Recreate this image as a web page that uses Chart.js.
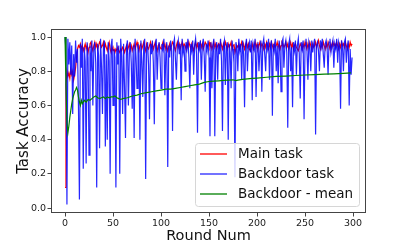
<!DOCTYPE html>
<html>
<head>
<meta charset="utf-8">
<script src="https://cdn.jsdelivr.net/npm/chart.js@4/dist/chart.umd.min.js"></script>
<style>
  html, body { margin: 0; padding: 0; background: #fff; }
  #wrap { width: 407px; height: 244px; }
</style>
</head>
<body>
<div id="wrap"><canvas id="chart" width="407" height="244"></canvas></div>
<script>
// series values, one per round (0..299)
const mainTask = [
  0.12,0.72,0.80,0.77,0.79,0.76,0.81,0.78,0.80,0.75,
  0.78,0.82,0.88,0.93,0.95,0.94,0.96,0.93,0.95,0.92,
  0.94,0.96,0.93,0.95,0.91,0.94,0.96,0.97,0.94,0.92,
  0.95,0.97,0.94,0.96,0.93,0.95,0.97,0.96,0.94,0.95,
  0.97,0.93,0.96,0.94,0.92,0.95,0.97,0.93,0.91,0.94,
  0.92,0.93,0.91,0.93,0.92,0.94,0.92,0.91,0.93,0.92,
  0.94,0.93,0.91,0.93,0.95,0.92,0.94,0.96,0.93,0.95,
  0.92,0.94,0.96,0.93,0.95,0.97,0.94,0.92,0.95,0.96,
  0.93,0.95,0.97,0.94,0.92,0.96,0.94,0.93,0.95,0.97,
  0.94,0.96,0.93,0.95,0.97,0.94,0.92,0.95,0.96,0.94,
  0.93,0.95,0.97,0.94,0.96,0.93,0.95,0.92,0.94,0.96,
  0.93,0.95,0.97,0.96,0.94,0.92,0.95,0.97,0.94,0.96,
  0.93,0.95,0.97,0.94,0.96,0.95,0.93,0.96,0.94,0.97,
  0.95,0.93,0.96,0.94,0.92,0.95,0.97,0.94,0.96,0.93,
  0.95,0.97,0.94,0.96,0.93,0.95,0.97,0.96,0.94,0.95,
  0.97,0.94,0.96,0.93,0.95,0.97,0.94,0.96,0.93,0.95,
  0.96,0.94,0.97,0.95,0.93,0.96,0.94,0.97,0.95,0.93,
  0.96,0.94,0.95,0.97,0.93,0.95,0.96,0.91,0.93,0.95,
  0.94,0.96,0.93,0.95,0.97,0.94,0.96,0.93,0.95,0.97,
  0.94,0.96,0.93,0.92,0.94,0.96,0.93,0.95,0.97,0.94,
  0.96,0.93,0.95,0.97,0.94,0.96,0.95,0.93,0.96,0.94,
  0.97,0.95,0.93,0.96,0.94,0.97,0.95,0.93,0.96,0.94,
  0.95,0.97,0.94,0.96,0.93,0.95,0.97,0.96,0.94,0.95,
  0.97,0.94,0.96,0.93,0.95,0.97,0.94,0.96,0.93,0.95,
  0.96,0.94,0.93,0.92,0.94,0.96,0.95,0.93,0.96,0.94,
  0.97,0.95,0.93,0.96,0.94,0.97,0.95,0.93,0.96,0.94,
  0.95,0.97,0.94,0.96,0.98,0.95,0.93,0.96,0.94,0.97,
  0.95,0.93,0.96,0.94,0.97,0.95,0.93,0.96,0.94,0.97,
  0.95,0.96,0.94,0.97,0.95,0.93,0.96,0.94,0.97,0.95,
  0.96,0.94,0.97,0.95,0.93,0.96,0.94,0.97,0.95,0.96
];
const backdoorTask = [
  1.00,0.92,0.02,0.99,0.84,0.97,0.78,0.95,0.55,0.90,
  0.77,0.98,0.85,0.93,0.60,0.05,0.96,0.82,0.99,0.23,
  0.94,0.86,0.26,0.97,0.88,0.31,0.95,0.80,0.98,0.60,
  0.92,0.97,0.85,0.12,0.96,0.89,0.35,0.99,0.83,0.55,
  0.94,0.98,0.36,0.90,0.40,0.97,0.86,0.20,0.95,0.99,
  0.60,0.93,0.88,0.12,0.97,0.84,0.95,0.20,0.99,0.89,
  0.55,0.96,0.71,0.41,0.94,0.98,0.60,0.90,0.97,0.85,
  0.58,0.95,0.41,0.99,0.88,0.70,0.96,0.92,0.40,0.98,
  0.86,0.65,0.95,0.99,0.17,0.93,0.97,0.84,0.52,0.96,
  0.90,0.98,0.85,0.49,0.95,0.99,0.75,0.92,0.97,0.88,
  0.70,0.96,0.93,0.99,0.66,0.90,0.97,0.24,0.95,0.88,
  0.98,0.92,0.45,0.96,0.99,0.87,0.75,0.94,0.98,0.90,
  0.96,0.63,0.99,0.91,0.95,0.80,0.97,0.93,0.99,0.88,
  0.70,0.96,0.92,0.98,0.78,0.95,0.99,0.90,0.44,0.97,
  0.93,0.98,0.75,0.95,0.99,0.89,0.68,0.96,0.92,0.98,
  0.88,0.42,0.97,0.70,0.95,0.99,0.42,0.93,0.97,0.75,
  0.96,0.90,0.99,0.86,0.45,0.95,0.98,0.72,0.94,0.97,
  0.40,0.96,0.91,0.70,0.98,0.93,0.85,0.18,0.97,0.94,
  0.80,0.99,0.92,0.96,0.75,0.98,0.90,0.59,0.95,0.99,
  0.80,0.94,0.97,0.91,0.98,0.63,0.96,0.93,0.99,0.65,
  0.95,0.97,0.80,0.92,0.98,0.68,0.96,0.99,0.90,0.80,
  0.97,0.93,0.99,0.75,0.95,0.98,0.54,0.96,0.92,0.99,
  0.80,0.95,0.73,0.98,0.93,0.68,0.97,0.99,0.82,0.95,
  0.98,0.91,0.47,0.96,0.99,0.80,0.94,0.59,0.97,0.92,
  0.98,0.78,0.95,0.99,0.90,0.64,0.97,0.93,0.98,0.52,
  0.95,0.99,0.92,0.75,0.97,0.94,0.80,0.98,0.91,0.96,
  0.99,0.43,0.95,0.97,0.92,0.80,0.98,0.94,0.99,0.90,
  0.82,0.96,0.98,0.93,0.78,0.97,0.99,0.91,0.95,0.98,
  0.82,0.96,0.93,0.99,0.85,0.97,0.94,0.58,0.98,0.95,
  0.80,0.97,0.99,0.85,0.94,0.98,0.60,0.93,0.78,0.88
];
const meanRounds = [0,1,2,3,4,5,6,7,8,9,10,11,12,13,14,15,16,17,18,19,20,22,24,26,28,30,32,34,36,38,40,42,44,46,48,50,52,54,56,58,60,65,70,75,80,85,90,95,100,105,110,115,120,125,130,135,140,145,150,155,160,165,170,175,178,180,185,190,195,200,210,220,230,240,250,260,270,280,290,298];
const backdoorMean = [1.00,0.72,0.50,0.44,0.48,0.53,0.57,0.61,0.64,0.66,0.68,0.69,0.705,0.69,0.65,0.62,0.60,0.63,0.61,0.62,0.63,0.62,0.635,0.63,0.64,0.65,0.655,0.645,0.64,0.645,0.65,0.64,0.65,0.645,0.65,0.65,0.655,0.645,0.64,0.635,0.64,0.645,0.655,0.66,0.67,0.675,0.68,0.685,0.69,0.695,0.695,0.70,0.705,0.71,0.715,0.72,0.725,0.735,0.74,0.742,0.744,0.746,0.748,0.75,0.745,0.748,0.752,0.755,0.758,0.76,0.765,0.77,0.772,0.775,0.778,0.78,0.783,0.785,0.788,0.79];
const xTicks = [0, 50, 100, 150, 200, 250, 300];
const yTicks = [0.0, 0.2, 0.4, 0.6, 0.8, 1.0];

const font = "'DejaVu Sans', sans-serif";

const boxPlugin = {
  id: 'box',
  afterDatasetsDraw(chart) {
    const { ctx, chartArea: a } = chart;
    ctx.save();
    ctx.strokeStyle = '#444';
    ctx.lineWidth = 1;
    ctx.strokeRect(a.left + 0.5, a.top + 0.5, a.right - a.left - 1, a.bottom - a.top - 1);

    // legend, lower right inside the axes
    const w = 164, h = 63;
    const x0 = a.right - 7 - w, y0 = a.bottom - 7 - h;
    ctx.beginPath();
    ctx.roundRect(x0 + 0.5, y0 + 0.5, w, h, 3);
    ctx.fillStyle = 'rgba(255,255,255,0.8)';
    ctx.fill();
    ctx.strokeStyle = '#d6d6d6';
    ctx.stroke();
    ctx.font = '13.5px ' + font;
    ctx.textBaseline = 'middle';
    chart.data.datasets.forEach((ds, i) => {
      const yy = y0 + 11 + i * 20;
      ctx.strokeStyle = ds.borderColor;
      ctx.lineWidth = 1.3;
      ctx.beginPath();
      ctx.moveTo(x0 + 5, yy);
      ctx.lineTo(x0 + 32, yy);
      ctx.stroke();
      ctx.fillStyle = '#111';
      ctx.fillText(ds.label, x0 + 43, yy);
    });
    ctx.restore();
  }
};

new Chart(document.getElementById('chart'), {
  type: 'line',
  data: {
    datasets: [
      {
        label: 'Main task',
        data: mainTask.map((v, i) => ({ x: i, y: v })),
        borderColor: 'rgba(255,0,0,1)',
        borderWidth: 1.2,
        pointRadius: 0,
        order: 3
      },
      {
        label: 'Backdoor task',
        data: backdoorTask.map((v, i) => ({ x: i, y: v })),
        borderColor: 'rgba(0,0,255,0.85)',
        borderWidth: 1.2,
        pointRadius: 0,
        order: 2
      },
      {
        label: 'Backdoor - mean',
        data: meanRounds.map((r, i) => ({ x: r, y: backdoorMean[i] })),
        borderColor: 'rgba(0,128,0,1)',
        borderWidth: 1.2,
        pointRadius: 0,
        order: 1
      }
    ]
  },
  options: {
    responsive: false,
    animation: false,
    layout: { padding: { left: 0, top: 29, right: 41, bottom: 0 } },
    plugins: { legend: { display: false }, tooltip: { enabled: false } },
    scales: {
      x: {
        type: 'linear',
        min: -14.6,
        max: 313.5,
        afterFit: s => { s.height = 31; },
        afterBuildTicks: s => { s.ticks = xTicks.map(v => ({ value: v })); },
        grid: { display: true, drawOnChartArea: false, drawTicks: true, tickLength: 3.5, color: '#444' },
        border: { display: false },
        ticks: { color: '#222', padding: 1, maxRotation: 0, font: { family: font, size: 9.5 } },
        title: { display: true, text: 'Round Num', color: '#111', padding: { top: 0, bottom: 0 }, font: { family: font, size: 14.5, lineHeight: 1.1 } }
      },
      y: {
        min: -0.029,
        max: 1.047,
        afterFit: s => { s.width = 51; },
        afterBuildTicks: s => { s.ticks = yTicks.map(v => ({ value: v })); },
        grid: { display: true, drawOnChartArea: false, drawTicks: true, tickLength: 3.5, color: '#444' },
        border: { display: false },
        ticks: { color: '#222', padding: 1.5, callback: v => v.toFixed(1), font: { family: font, size: 9.5 } },
        title: { display: true, text: 'Task Accuracy', color: '#111', padding: { top: 15, bottom: 0 }, font: { family: font, size: 15, lineHeight: 1.2 } }
      }
    }
  },
  plugins: [boxPlugin]
});
</script>
</body>
</html>
